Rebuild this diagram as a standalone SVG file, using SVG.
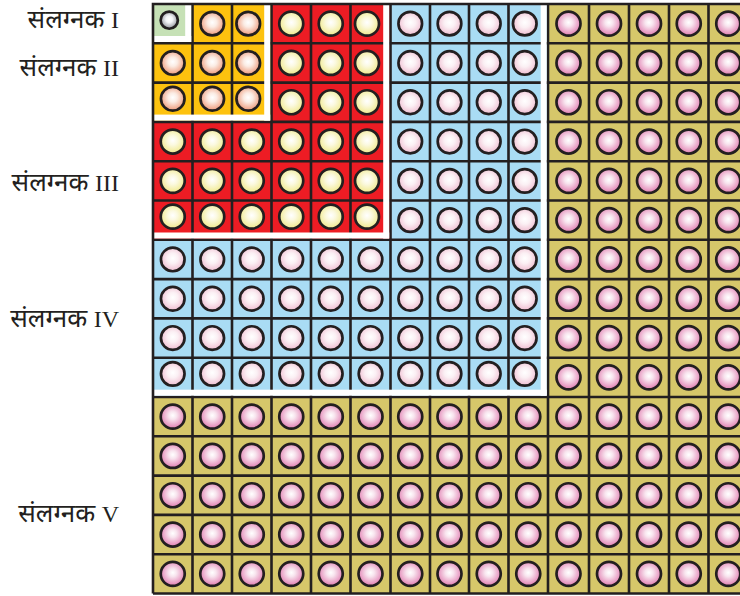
<svg xmlns="http://www.w3.org/2000/svg" xmlns:xlink="http://www.w3.org/1999/xlink" width="740" height="596" viewBox="0 0 740 596">
<style>
.lbl{font-family:"Liberation Serif","Noto Serif","Noto Sans",serif;font-size:26px;fill:#231f20;text-anchor:end}
.num{font-size:24px}
.c{stroke:#231f20;stroke-width:2.7}
.grid{fill:none;stroke:#231f20;stroke-width:2.6}
.wh{fill:#ffffff}
</style>
<defs>
<radialGradient id="gG" cx="50%" cy="45%" r="55%"><stop offset="0" stop-color="#ffffff"/><stop offset="0.35" stop-color="#f2f3f6"/><stop offset="1" stop-color="#8e8f98"/></radialGradient>
<radialGradient id="gY" cx="50%" cy="45%" r="55%"><stop offset="0" stop-color="#ffffff"/><stop offset="0.35" stop-color="#fbece4"/><stop offset="1" stop-color="#ee9878"/></radialGradient>
<radialGradient id="gR" cx="50%" cy="45%" r="55%"><stop offset="0" stop-color="#ffffff"/><stop offset="0.35" stop-color="#fbf9e0"/><stop offset="1" stop-color="#f0e98a"/></radialGradient>
<radialGradient id="gB" cx="50%" cy="45%" r="55%"><stop offset="0" stop-color="#ffffff"/><stop offset="0.4" stop-color="#fbf0f4"/><stop offset="1" stop-color="#efbcd0"/></radialGradient>
<radialGradient id="gO" cx="50%" cy="45%" r="55%"><stop offset="0" stop-color="#ffffff"/><stop offset="0.3" stop-color="#f8e4ee"/><stop offset="1" stop-color="#e07cb0"/></radialGradient>
<circle id="cG" class="c" r="8.6" fill="url(#gG)"/>
<circle id="cY" class="c" r="11.8" fill="url(#gY)"/>
<circle id="cR" class="c" r="12" fill="url(#gR)"/>
<circle id="cB" class="c" r="11.8" fill="url(#gB)"/>
<circle id="cO" class="c" r="12" fill="url(#gO)"/>
<g id="rR"><use xlink:href="#cR" x="291.25"/><use xlink:href="#cR" x="330.75"/><use xlink:href="#cR" x="367"/></g>
<g id="rF"><use xlink:href="#cR" x="172.75"/><use xlink:href="#cR" x="212.25"/><use xlink:href="#cR" x="251.75"/><use xlink:href="#rR"/></g>
<g id="bR"><use xlink:href="#cB" x="410.25"/><use xlink:href="#cB" x="449.5"/><use xlink:href="#cB" x="488.75"/><use xlink:href="#cB" x="524.75"/></g>
<g id="bF"><use xlink:href="#cB" x="172.75"/><use xlink:href="#cB" x="212.25"/><use xlink:href="#cB" x="251.75"/><use xlink:href="#cB" x="291.25"/><use xlink:href="#cB" x="330.75"/><use xlink:href="#cB" x="370.5"/><use xlink:href="#bR"/></g>
<g id="oR"><use xlink:href="#cO" x="568.5"/><use xlink:href="#cO" x="609"/><use xlink:href="#cO" x="649"/><use xlink:href="#cO" x="688.75"/><use xlink:href="#cO" x="728.25"/></g>
<g id="oF"><use xlink:href="#cO" x="172.75"/><use xlink:href="#cO" x="212.25"/><use xlink:href="#cO" x="251.75"/><use xlink:href="#cO" x="291.25"/><use xlink:href="#cO" x="330.75"/><use xlink:href="#cO" x="370.5"/><use xlink:href="#cO" x="410.25"/><use xlink:href="#cO" x="449.5"/><use xlink:href="#cO" x="488.75"/><use xlink:href="#cO" x="528.25"/><use xlink:href="#oR"/></g>
</defs>

<g id="backgrounds">
<rect x="153" y="4" width="595" height="589.5" fill="#d6c76a"/>
<rect x="153" y="4" width="395" height="393" fill="#a9dcf4"/>
<rect x="153" y="4" width="237.5" height="235.8" fill="#ed1c24"/>
<rect x="153" y="4" width="118.5" height="117.9" fill="#fdc20f"/>
<rect x="153" y="4" width="39.5" height="39.3" fill="#c6e1b6"/>
</g>

<g id="gridlines">
<path class="grid" d="M192.5,4V593.5M232,4V593.5M271.5,4V593.5M311,4V593.5M350.5,4V593.5M390.5,4V593.5M430,4V593.5M469,4V593.5M508.5,4V593.5M548,4V593.5M589,4V593.5M629,4V593.5M669,4V593.5M708.5,4V593.5M153,43.3H748M153,82.6H748M153,121.9H748M153,161.2H748M153,200.5H748M153,239.8H748M153,279.1H748M153,318.4H748M153,357.7H748M153,397H748M153,436.3H748M153,475.6H748M153,514.9H748M153,554.2H748"/>
</g>

<g id="separators">
<rect class="wh" x="185.2" y="0" width="6" height="42"/>
<rect class="wh" x="153" y="36" width="38.2" height="6"/>
<rect class="wh" x="264.2" y="0" width="6" height="120.6"/>
<rect class="wh" x="153" y="114.6" width="117.2" height="6"/>
<rect class="wh" x="383.2" y="0" width="6" height="238.5"/>
<rect class="wh" x="153" y="232.5" width="236.2" height="6"/>
<rect class="wh" x="540.7" y="0" width="6" height="395.7"/>
<rect class="wh" x="153" y="389.7" width="393.7" height="6"/>
<path class="grid" d="M153,593.5V4H748M153,593.5H748"/>
</g>

<g id="annex-I">
<use xlink:href="#cG" x="169.25" y="20.15"/>
</g>

<g id="annex-II">
<use xlink:href="#cY" x="212.25" y="23.65"/><use xlink:href="#cY" x="248.25" y="23.65"/>
<use xlink:href="#cY" x="172.75" y="62.95"/><use xlink:href="#cY" x="212.25" y="62.95"/><use xlink:href="#cY" x="248.25" y="62.95"/>
<use xlink:href="#cY" x="172.75" y="98.75"/><use xlink:href="#cY" x="212.25" y="98.75"/><use xlink:href="#cY" x="248.25" y="98.75"/>
</g>

<g id="annex-III">
<use xlink:href="#rR" y="23.65"/>
<use xlink:href="#rR" y="62.95"/>
<use xlink:href="#rR" y="102.25"/>
<use xlink:href="#rF" y="141.55"/>
<use xlink:href="#rF" y="180.85"/>
<use xlink:href="#rF" y="216.65"/>
</g>

<g id="annex-IV">
<use xlink:href="#bR" y="23.65"/>
<use xlink:href="#bR" y="62.95"/>
<use xlink:href="#bR" y="102.25"/>
<use xlink:href="#bR" y="141.55"/>
<use xlink:href="#bR" y="180.85"/>
<use xlink:href="#bR" y="220.15"/>
<use xlink:href="#bF" y="259.45"/>
<use xlink:href="#bF" y="298.75"/>
<use xlink:href="#bF" y="338.05"/>
<use xlink:href="#bF" y="373.85"/>
</g>

<g id="annex-V">
<use xlink:href="#oR" y="23.65"/>
<use xlink:href="#oR" y="62.95"/>
<use xlink:href="#oR" y="102.25"/>
<use xlink:href="#oR" y="141.55"/>
<use xlink:href="#oR" y="180.85"/>
<use xlink:href="#oR" y="220.15"/>
<use xlink:href="#oR" y="259.45"/>
<use xlink:href="#oR" y="298.75"/>
<use xlink:href="#oR" y="338.05"/>
<use xlink:href="#oR" y="377.35"/>
<use xlink:href="#oF" y="416.65"/>
<use xlink:href="#oF" y="455.95"/>
<use xlink:href="#oF" y="495.25"/>
<use xlink:href="#oF" y="534.55"/>
<use xlink:href="#oF" y="573.85"/>
</g>

<g id="labels">
<text class="lbl" x="119" y="28">संलग्नक <tspan class="num">I</tspan></text>
<text class="lbl" x="119" y="76">संलग्नक <tspan class="num">II</tspan></text>
<text class="lbl" x="119" y="191">संलग्नक <tspan class="num">III</tspan></text>
<text class="lbl" x="119" y="327">संलग्नक <tspan class="num">IV</tspan></text>
<text class="lbl" x="119" y="522">संलग्नक <tspan class="num">V</tspan></text>
</g>
</svg>
